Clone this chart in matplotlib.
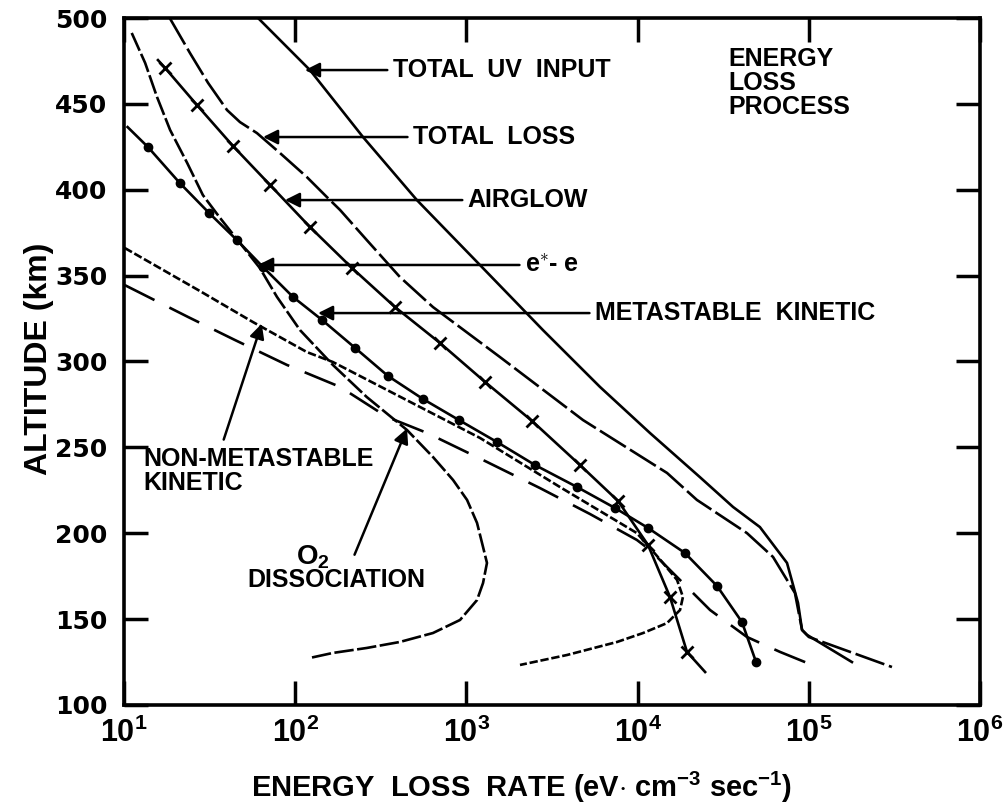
import numpy as np
import matplotlib
matplotlib.use("Agg")
import matplotlib.pyplot as plt
from matplotlib.ticker import FixedLocator, NullLocator

plt.rcParams['font.family'] = ['Liberation Sans', 'DejaVu Sans']
plt.rcParams['font.weight'] = 'bold'
plt.rcParams['axes.labelweight'] = 'bold'
plt.rcParams['mathtext.fontset'] = 'custom'
plt.rcParams['mathtext.rm'] = 'Liberation Sans:bold'
plt.rcParams['mathtext.bf'] = 'Liberation Sans:bold'
plt.rcParams['mathtext.it'] = 'Liberation Sans:bold'
plt.rcParams['lines.scale_dashes'] = False

# energy loss rates (eV cm^-3 s^-1) against altitude (km)
uv_rate = [60.7, 122, 249, 514, 1200, 2800, 6030, 11800, 23100, 36100, 51800, 74600, 86500,
           91300, 97700, 178600]
uv_alt = [500, 469.7, 430.7, 394.0, 356.2, 318.3, 285.2, 258.4, 232.7, 215.3, 203.6, 182.7,
          159.4, 143.7, 140.8, 125.0]

loss_rate = [18.5, 24.3, 31.0, 40.0, 47.6, 59.8, 81.5, 117, 153, 183, 262, 409, 638, 1570, 4800,
             14860, 22200, 43500, 61800, 83000, 91300, 100000, 306000]
loss_alt = [500, 479.6, 462.2, 446.4, 439.4, 433.0, 421.4, 407.4, 395.8, 388.2, 370.7, 349.2, 331.7,
            302.6, 265.9, 235.1, 219.4, 200.1, 186.2, 165.2, 143.7, 139.6, 122.1]

airglow_rate = [15.8, 17.4, 26.7, 43.3, 71.3, 122, 215, 383, 701, 1285, 2418, 4610, 7690,
                11500, 15460, 19430, 24800]
airglow_alt = [475.5, 470.9, 449.3, 425.5, 402.8, 378.3, 354.4, 331.7, 310.8, 288.1, 265.4,
               239.7, 218.8, 193.2, 162.9, 130.9, 119.2]

meta_rate = [10.5, 13.8, 21.2, 31.4, 45.7, 64.9, 97.1, 143.5, 224, 348, 557, 905, 1510, 2518,
             4430, 7380, 11500, 18900, 29100, 40700, 49200]
meta_alt = [436.5, 424.9, 403.9, 386.5, 370.7, 355.0, 337.6, 324.2, 307.9, 291.6, 278.2, 265.9,
            253.1, 239.7, 226.9, 214.7, 203.1, 188.5, 169.3, 148.3, 125.0]

o2_rate = [11.1, 13.3, 15.6, 18.6, 23.4, 28.9, 36.4, 47.6, 62.2, 78.3, 106.7, 166, 262, 450,
           638, 836, 1009, 1154, 1251, 1319, 1251, 1154, 918, 638, 409, 262, 166, 122]
o2_alt = [491.3, 473.8, 454.0, 434.8, 415.6, 396.9, 383.6, 369.0, 354.4, 337.6, 318.3, 298.0,
          279.3, 260.1, 244.4, 231.0, 219.4, 206.0, 192.0, 182.7, 171.0, 161.1, 149.5, 141.9,
          136.7, 133.2, 130.3, 127.4]

nonmeta_rate = [10.1, 27.8, 56.6, 117, 166, 536, 1200, 3520, 9900, 12100, 13900, 17000, 18400,
                17700, 14860, 10770, 7590, 3870, 2056]
nonmeta_alt = [366.1, 341.0, 323.0, 305.5, 299.7, 273.5, 255.5, 226.9, 200.1, 190.3, 183.3,
               172.8, 162.9, 155.3, 147.7, 141.9, 136.7, 129.1, 123.3]

other_rate = [10.1, 23.7, 44.5, 89.5, 183, 344, 589, 1320, 2690, 5270, 9900, 11800, 17000,
              26500, 43500, 67900, 104500]
other_alt = [344.5, 325.9, 312.5, 298.0, 285.2, 267.7, 258.4, 241.5, 226.3, 211.2, 196.1, 190.3,
             174.5, 155.3, 139.6, 130.9, 123.3]

xticks = [1e1, 1e2, 1e3, 1e4, 1e5, 1e6]
yticks = [100, 150, 200, 250, 300, 350, 400, 450, 500]

fig = plt.figure(figsize=(10.07, 8.08), dpi=100)
ax = fig.add_axes([0.1231, 0.1275, 0.8501, 0.8502])

lw = 1.9
ax.plot(uv_rate, uv_alt, color='black', lw=lw)
ax.plot(loss_rate, loss_alt, color='black', lw=lw, ls=(0, (22, 3.5)))
ax.plot(airglow_rate, airglow_alt, color='black', lw=lw, marker='x', ms=9, mew=2,
        markevery=list(range(1, len(airglow_rate) - 1)))
ax.plot(meta_rate, meta_alt, color='black', lw=lw, marker='o', ms=6,
        markevery=list(range(1, len(meta_rate))))
ax.plot(o2_rate, o2_alt, color='black', lw=lw, ls=(0, (14, 2.5)))
ax.plot(nonmeta_rate, nonmeta_alt, color='black', lw=lw, ls=(0, (6, 2)))
ax.plot(other_rate, other_alt, color='black', lw=lw, ls=(0, (24, 12)))

ax.set_xscale('log')
ax.set_xlim(1e1, 1e6)
ax.set_ylim(100, 500)
ax.xaxis.set_major_locator(FixedLocator(xticks))
ax.xaxis.set_minor_locator(NullLocator())
ax.set_xticklabels([r'$\mathbf{10^{%d}}$' % int(np.log10(v)) for v in xticks])
ax.set_yticks(yticks)
ax.set_yticklabels([str(v) for v in yticks], family='DejaVu Sans', fontweight='bold')
ax.tick_params(direction='in', length=17, width=2.5, top=True, right=True)
ax.tick_params(axis='x', pad=9, labelsize=22)
ax.tick_params(axis='y', pad=12, labelsize=18)
for sp in ax.spines.values():
    sp.set_linewidth(2.6)

ax.set_xlabel(r'ENERGY  LOSS  RATE (eV$\cdot$ cm$^{-3}$ sec$^{-1}$)', fontsize=21)
ax.xaxis.set_label_coords(0.464, -0.094)
ax.set_ylabel('ALTITUDE (km)', fontsize=23)
ax.yaxis.set_label_coords(-0.082, 0.504)

arrow = dict(arrowstyle='-|>', color='black', lw=1.8, mutation_scale=22, shrinkA=2, shrinkB=0)
fs = 18

ax.annotate('TOTAL  UV  INPUT', xy=(114, 469.7), xytext=(372, 469.7), va='center', fontsize=fs,
            arrowprops=arrow)
ax.annotate('TOTAL  LOSS', xy=(64.9, 430.7), xytext=(488, 430.7), va='center', fontsize=fs,
            arrowprops=arrow)
ax.annotate('AIRGLOW', xy=(87.1, 394.0), xytext=(1020, 394.0), va='center', fontsize=fs,
            arrowprops=arrow)
ax.annotate(r'e$^{\ast}$- e', xy=(60.7, 356.2), xytext=(2200, 356.2), va='center', fontsize=fs,
            arrowprops=arrow)
ax.annotate('METASTABLE  KINETIC', xy=(136, 328.2), xytext=(5640, 328.2), va='center',
            fontsize=fs, arrowprops=arrow)

ax.text(3.37e4, 462, 'ENERGY\nLOSS\nPROCESS', fontsize=fs, va='center', ha='left',
        linespacing=1.0)

ax.annotate('', xy=(63.8, 322), xytext=(37.8, 253), arrowprops=arrow)
ax.text(13, 236, 'NON-METASTABLE\nKINETIC', fontsize=fs, va='center', ha='left',
        linespacing=1.0)

ax.annotate('', xy=(450, 261), xytext=(219, 186), arrowprops=arrow)
ax.text(127, 182, r'O$_{\mathbf{2}}$', fontsize=fs + 2, va='baseline', ha='center')
ax.text(173, 172.8, 'DISSOCIATION', fontsize=fs, va='center', ha='center')

fig.savefig('out.png', dpi=100)
